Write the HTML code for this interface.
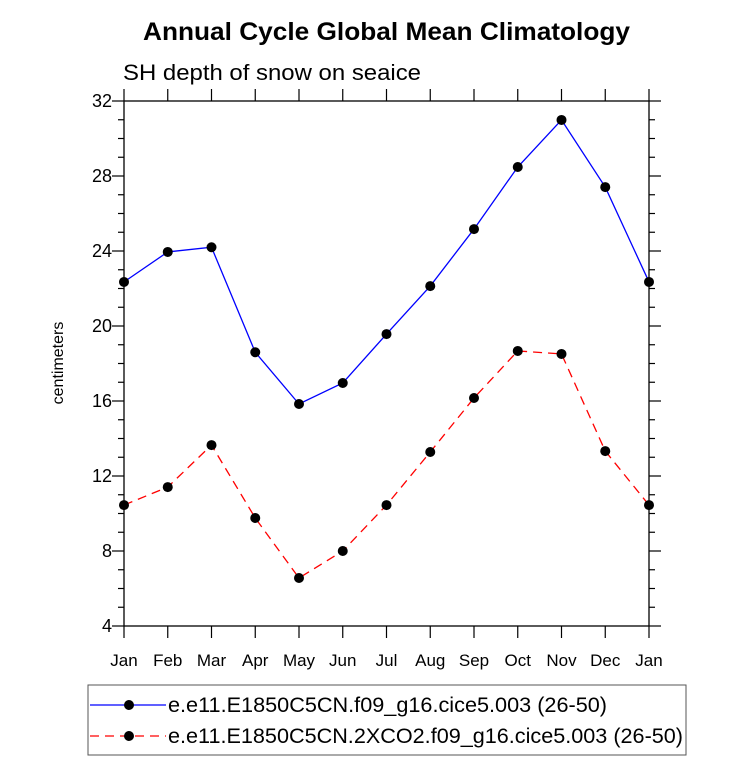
<!DOCTYPE html>
<html><head><meta charset="utf-8"><style>
body{margin:0;background:#fff;}
svg{display:block;font-family:"Liberation Sans",Arial,sans-serif;}
</style></head><body>
<svg id="chart" width="733" height="761" viewBox="0 0 733 761">
<text x="143" y="40" font-size="25" font-weight="bold" textLength="487" lengthAdjust="spacingAndGlyphs">Annual Cycle Global Mean Climatology</text>
<text x="123" y="80" font-size="22" textLength="298" lengthAdjust="spacingAndGlyphs">SH depth of snow on seaice</text>
<text transform="translate(63,363) rotate(-90)" text-anchor="middle" font-size="16">centimeters</text>
<g id="axes"></g>
<g id="series"></g>
<g>
<rect x="88" y="685" width="598" height="70" fill="none" stroke="#555" stroke-width="1"/>
<line x1="90" y1="705" x2="166" y2="705" stroke="#0000ff" stroke-width="1.3"/>
<circle cx="129" cy="705" r="5" fill="#000"/>
<text x="168" y="712" font-size="21" textLength="439" lengthAdjust="spacingAndGlyphs">e.e11.E1850C5CN.f09_g16.cice5.003 (26-50)</text>
<line x1="90" y1="736" x2="166" y2="736" stroke="#ff0000" stroke-width="1.3" stroke-dasharray="9,6"/>
<circle cx="129" cy="736" r="5" fill="#000"/>
<text x="168" y="743" font-size="21" textLength="515" lengthAdjust="spacingAndGlyphs">e.e11.E1850C5CN.2XCO2.f09_g16.cice5.003 (26-50)</text>
</g>
</svg>
<script>
const months = ["Jan","Feb","Mar","Apr","May","Jun","Jul","Aug","Sep","Oct","Nov","Dec","Jan"];
const controlValues = [22.35,23.95,24.2,18.6,15.84,16.96,19.57,22.13,25.17,28.48,30.99,27.41,22.35];
const co2Values = [10.45,11.41,13.65,9.76,6.56,8.0,10.45,13.28,16.16,18.67,18.51,13.33,10.45];
const yTicks = [4,8,12,16,20,24,28,32];

const NS="http://www.w3.org/2000/svg";
const L=124,R=649,T=101,B=626,ymin=4,ymax=32;
const xs=i=>L+(R-L)*i/(months.length-1);
const ys=v=>B-(B-T)*(v-ymin)/(ymax-ymin);
function mk(tag,attrs,parent,txt){const e=document.createElementNS(NS,tag);for(const k in attrs)e.setAttribute(k,attrs[k]);if(txt!==undefined)e.textContent=txt;parent.appendChild(e);return e;}
const ax=document.getElementById('axes');
const frame=mk('rect',{x:L,y:T,width:R-L,height:B-T,fill:'none',stroke:'#000','stroke-width':1.3},ax);


months.forEach((m,i)=>{
  const x=xs(i);
  mk('line',{x1:x,y1:B,x2:x,y2:B+12,stroke:'#000','stroke-width':1.2},ax);
  mk('line',{x1:x,y1:T,x2:x,y2:T-12,stroke:'#000','stroke-width':1.2},ax);
  const t=mk('text',{x:x,y:B+40,'text-anchor':'middle','font-size':17},ax,m);
  
  
});
for(let v=ymin;v<=ymax;v++){
  const y=ys(v),major=yTicks.includes(v),len=major?12:6;
  mk('line',{x1:L,y1:y,x2:L-len,y2:y,stroke:'#000','stroke-width':1.2},ax);
  mk('line',{x1:R,y1:y,x2:R+len,y2:y,stroke:'#000','stroke-width':1.2},ax);
}
yTicks.forEach(v=>{
  const t=mk('text',{x:L-12,y:ys(v)+6,'text-anchor':'end','font-size':18},ax,String(v));
  
  
});
const sg=document.getElementById('series');
function series(vals,color,dash,name){
  const pts=vals.map((v,i)=>xs(i)+','+ys(v)).join(' ');
  const pl=mk('polyline',{points:pts,fill:'none',stroke:color,'stroke-width':1.3,'stroke-dasharray':dash},sg);
  
  
  vals.forEach((v,i)=>{
    const c=mk('circle',{cx:xs(i),cy:ys(v),r:5,fill:'#000'},sg);
    
    
  });
}
series(controlValues,'#0000ff','none','control');
series(co2Values,'#ff0000','9,6','2xco2');
</script>
</body></html>
